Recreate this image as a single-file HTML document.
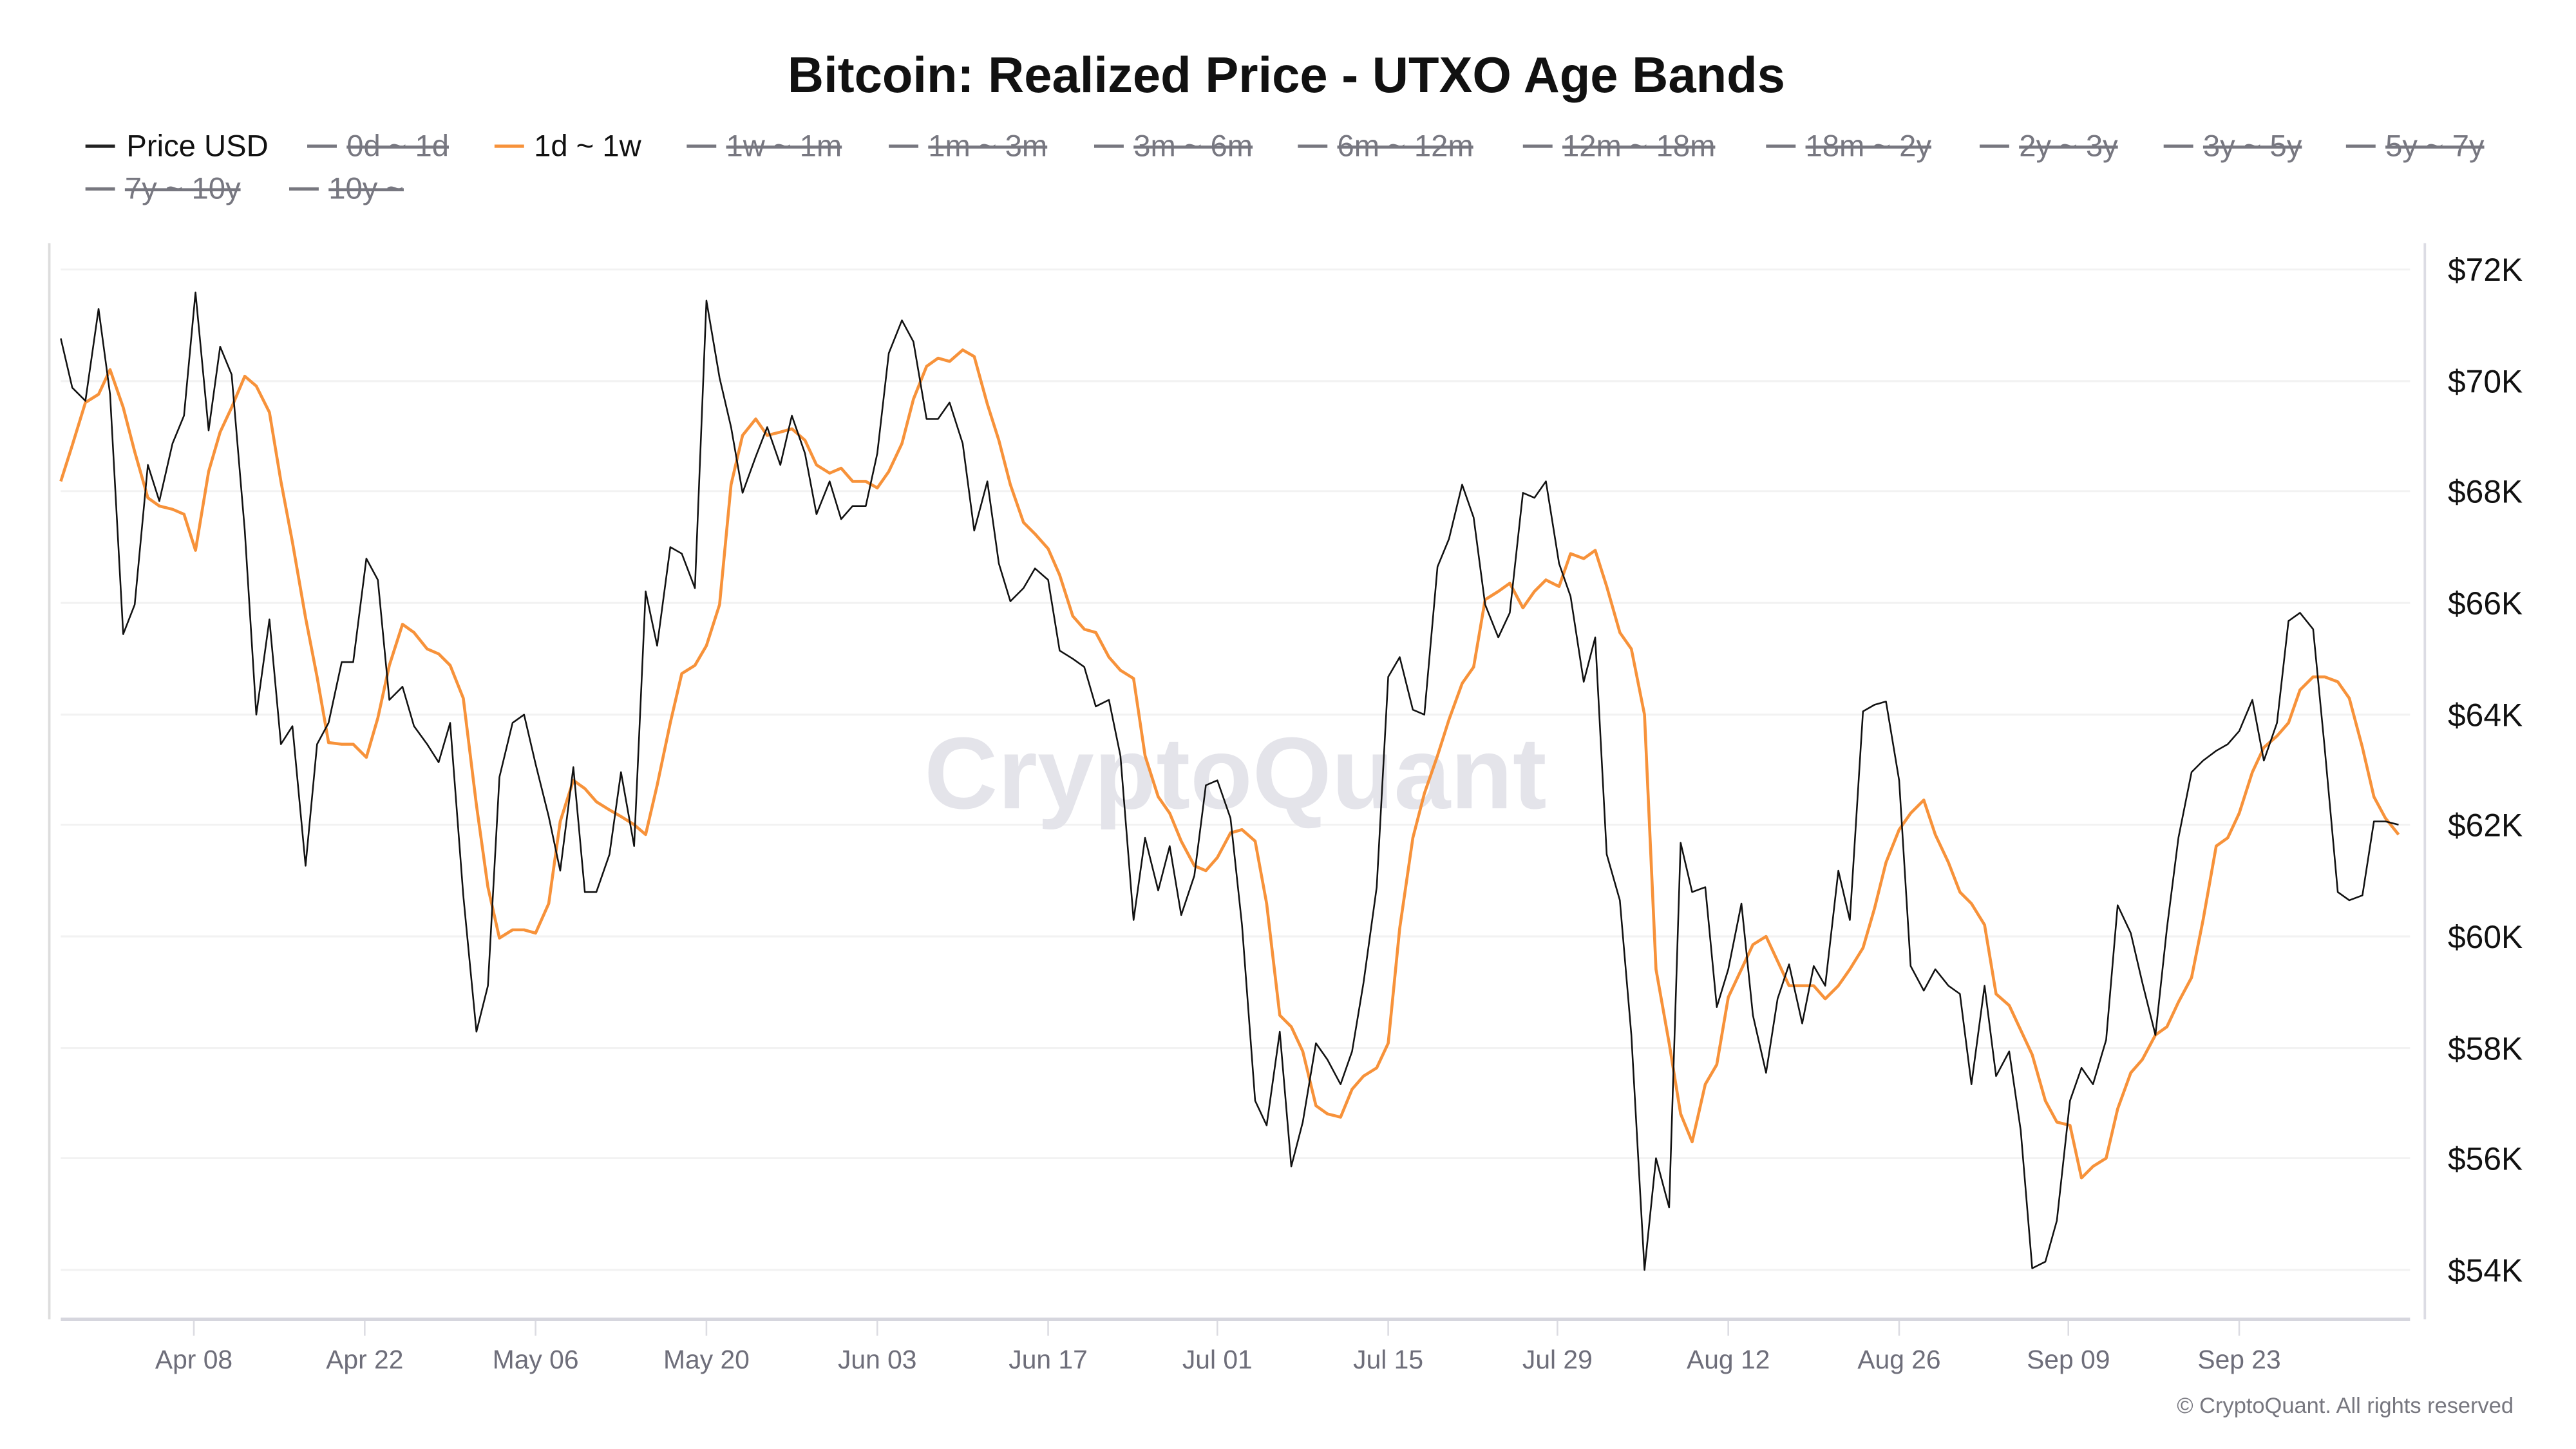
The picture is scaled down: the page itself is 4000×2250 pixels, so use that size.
<!DOCTYPE html>
<html><head><meta charset="utf-8"><style>
html,body{margin:0;padding:0;background:#fff;}
svg{display:block;font-family:"Liberation Sans",sans-serif;}
</style></head><body>
<svg width="4000" height="2250" viewBox="0 0 1568 882" xmlns="http://www.w3.org/2000/svg">
<rect width="1568" height="882" fill="#fff"/>
<text x="783" y="56" text-anchor="middle" font-size="30.5" font-weight="bold" fill="#111">Bitcoin: Realized Price - UTXO Age Bands</text>
<g font-size="18.5" fill="#777780">
<line x1="52" y1="89" x2="70" y2="89" stroke="#222" stroke-width="2"/><text x="77" y="95" fill="#111">Price USD</text>
<line x1="187" y1="89" x2="205" y2="89" stroke="#77777f" stroke-width="2"/><text x="211" y="95" text-decoration="line-through">0d ~ 1d</text>
<line x1="301" y1="89" x2="319" y2="89" stroke="#f7923a" stroke-width="2"/><text x="325" y="95" fill="#111">1d ~ 1w</text>
<line x1="418" y1="89" x2="436" y2="89" stroke="#77777f" stroke-width="2"/><text x="442" y="95" text-decoration="line-through">1w ~ 1m</text>
<line x1="541" y1="89" x2="559" y2="89" stroke="#77777f" stroke-width="2"/><text x="565" y="95" text-decoration="line-through">1m ~ 3m</text>
<line x1="666" y1="89" x2="684" y2="89" stroke="#77777f" stroke-width="2"/><text x="690" y="95" text-decoration="line-through">3m ~ 6m</text>
<line x1="790" y1="89" x2="808" y2="89" stroke="#77777f" stroke-width="2"/><text x="814" y="95" text-decoration="line-through">6m ~ 12m</text>
<line x1="927" y1="89" x2="945" y2="89" stroke="#77777f" stroke-width="2"/><text x="951" y="95" text-decoration="line-through">12m ~ 18m</text>
<line x1="1075" y1="89" x2="1093" y2="89" stroke="#77777f" stroke-width="2"/><text x="1099" y="95" text-decoration="line-through">18m ~ 2y</text>
<line x1="1205" y1="89" x2="1223" y2="89" stroke="#77777f" stroke-width="2"/><text x="1229" y="95" text-decoration="line-through">2y ~ 3y</text>
<line x1="1317" y1="89" x2="1335" y2="89" stroke="#77777f" stroke-width="2"/><text x="1341" y="95" text-decoration="line-through">3y ~ 5y</text>
<line x1="1428" y1="89" x2="1446" y2="89" stroke="#77777f" stroke-width="2"/><text x="1452" y="95" text-decoration="line-through">5y ~ 7y</text>
<line x1="52" y1="115" x2="70" y2="115" stroke="#77777f" stroke-width="2"/><text x="76" y="121" text-decoration="line-through">7y ~ 10y</text>
<line x1="176" y1="115" x2="194" y2="115" stroke="#77777f" stroke-width="2"/><text x="200" y="121" text-decoration="line-through">10y ~</text>
</g>
<line x1="30" y1="148" x2="30" y2="803" stroke="#ddd" stroke-width="1.5"/>
<line x1="1476" y1="148" x2="1476" y2="803" stroke="#dcdce4" stroke-width="1.5"/>
<g stroke="#f2f2f2" stroke-width="1.2">
<line x1="37" y1="164" x2="1467" y2="164"/><line x1="37" y1="232" x2="1467" y2="232"/><line x1="37" y1="299" x2="1467" y2="299"/><line x1="37" y1="367" x2="1467" y2="367"/><line x1="37" y1="435" x2="1467" y2="435"/><line x1="37" y1="502" x2="1467" y2="502"/><line x1="37" y1="570" x2="1467" y2="570"/><line x1="37" y1="638" x2="1467" y2="638"/><line x1="37" y1="705" x2="1467" y2="705"/><line x1="37" y1="773" x2="1467" y2="773"/>
</g>
<line x1="37" y1="803" x2="1467" y2="803" stroke="#d6d6de" stroke-width="2"/>
<g stroke="#dcdce2" stroke-width="1">
<line x1="118" y1="804" x2="118" y2="813"/><line x1="222" y1="804" x2="222" y2="813"/><line x1="326" y1="804" x2="326" y2="813"/><line x1="430" y1="804" x2="430" y2="813"/><line x1="534" y1="804" x2="534" y2="813"/><line x1="638" y1="804" x2="638" y2="813"/><line x1="741" y1="804" x2="741" y2="813"/><line x1="845" y1="804" x2="845" y2="813"/><line x1="948" y1="804" x2="948" y2="813"/><line x1="1052" y1="804" x2="1052" y2="813"/><line x1="1156" y1="804" x2="1156" y2="813"/><line x1="1259" y1="804" x2="1259" y2="813"/><line x1="1363" y1="804" x2="1363" y2="813"/>
</g>
<text x="752" y="492" text-anchor="middle" font-size="62" fill="#e4e4ea" font-weight="bold">CryptoQuant</text>
<g font-size="19.5" fill="#111">
<text x="1490" y="171">$72K</text><text x="1490" y="239">$70K</text><text x="1490" y="306">$68K</text><text x="1490" y="374">$66K</text><text x="1490" y="442">$64K</text><text x="1490" y="509">$62K</text><text x="1490" y="577">$60K</text><text x="1490" y="645">$58K</text><text x="1490" y="712">$56K</text><text x="1490" y="780">$54K</text>
</g>
<g font-size="16" fill="#6e6e7a" text-anchor="middle">
<text x="118" y="833">Apr 08</text><text x="222" y="833">Apr 22</text><text x="326" y="833">May 06</text><text x="430" y="833">May 20</text><text x="534" y="833">Jun 03</text><text x="638" y="833">Jun 17</text><text x="741" y="833">Jul 01</text><text x="845" y="833">Jul 15</text><text x="948" y="833">Jul 29</text><text x="1052" y="833">Aug 12</text><text x="1156" y="833">Aug 26</text><text x="1259" y="833">Sep 09</text><text x="1363" y="833">Sep 23</text>
</g>
<text x="1530" y="860" text-anchor="end" font-size="13.5" fill="#77777f">© CryptoQuant. All rights reserved</text>
<polyline fill="none" stroke="#f7923a" stroke-width="1.8" stroke-linejoin="round" points="37,293 44,271 52,245 60,240 67,225 75,248 82,275 90,303 97,308 105,310 112,313 119,335 127,287 134,263 141,248 149,229 156,235 164,251 171,293 178,330 186,376 193,412 200,452 208,453 215,453 223,461 230,437 237,405 245,380 252,385 260,395 267,398 274,405 282,425 290,490 297,540 304,571 312,566 319,566 326,568 334,550 341,500 349,475 356,480 363,488 371,493 378,497 386,502 393,508 400,478 408,440 415,410 423,405 430,393 438,368 445,295 452,265 460,255 467,265 475,263 482,261 490,268 497,283 505,288 512,285 519,293 527,293 534,297 541,287 549,270 556,243 564,223 571,218 578,220 586,213 593,217 601,246 608,268 615,295 623,318 630,325 638,334 645,350 653,375 660,383 667,385 675,400 682,408 690,413 697,460 705,485 712,495 719,512 727,527 734,530 741,522 749,507 756,505 764,512 771,550 779,618 786,625 793,640 801,673 808,678 816,680 823,663 830,655 838,650 845,635 852,565 860,510 867,483 875,460 882,438 890,416 897,406 904,365 912,360 919,355 927,370 934,360 941,353 949,357 956,337 964,340 971,335 978,357 986,385 993,395 1001,435 1008,590 1016,635 1023,678 1030,695 1038,660 1045,648 1052,607 1060,590 1067,575 1075,570 1082,585 1089,600 1097,600 1104,600 1111,608 1119,600 1126,590 1134,577 1141,553 1148,525 1156,505 1163,495 1171,487 1178,508 1186,525 1193,543 1200,550 1208,563 1215,605 1223,612 1230,627 1237,642 1245,670 1252,683 1260,685 1267,717 1274,710 1282,705 1289,675 1297,653 1304,645 1312,630 1319,625 1326,610 1334,595 1341,560 1349,515 1356,510 1363,495 1371,470 1378,455 1386,448 1393,440 1400,420 1408,412 1415,412 1423,415 1430,425 1438,455 1445,485 1452,498 1460,508"/>
<polyline fill="none" stroke="#111" stroke-width="1" stroke-linejoin="round" points="37,206 44,236 52,244 60,188 67,240 75,386 82,368 90,283 97,305 105,270 112,253 119,178 127,262 134,211 141,228 149,323 156,435 164,377 171,453 178,442 186,527 193,453 200,440 208,403 215,403 223,340 230,353 237,426 245,418 252,442 260,453 267,464 274,440 282,545 290,628 297,600 304,473 312,440 319,435 326,465 334,497 341,530 349,467 356,543 363,543 371,520 378,470 386,515 393,360 400,393 408,333 415,337 423,358 430,183 438,230 445,260 452,300 460,278 467,260 475,283 482,253 490,276 497,313 505,293 512,316 519,308 527,308 534,276 541,215 549,195 556,208 564,255 571,255 578,245 586,270 593,323 601,293 608,343 615,366 623,358 630,346 638,353 645,396 653,401 660,406 667,430 675,426 682,460 690,560 697,510 705,542 712,515 719,557 727,533 734,478 741,475 749,498 756,563 764,670 771,685 779,628 786,710 793,683 801,635 808,645 816,660 823,640 830,598 838,540 845,412 852,400 860,432 867,435 875,345 882,328 890,295 897,315 904,368 912,388 919,373 927,300 934,303 941,293 949,343 956,363 964,415 971,388 978,520 986,548 993,630 1001,773 1008,705 1016,735 1023,513 1030,543 1038,540 1045,613 1052,590 1060,550 1067,618 1075,653 1082,608 1089,587 1097,623 1104,588 1111,600 1119,530 1126,560 1134,433 1141,429 1148,427 1156,475 1163,588 1171,603 1178,590 1186,600 1193,605 1200,660 1208,600 1215,655 1223,640 1230,688 1237,772 1245,768 1252,743 1260,670 1267,650 1274,660 1282,633 1289,551 1297,568 1304,598 1312,630 1319,565 1326,510 1334,470 1341,463 1349,457 1356,453 1363,445 1371,426 1378,463 1386,440 1393,378 1400,373 1408,383 1415,455 1423,543 1430,548 1438,545 1445,500 1452,500 1460,502"/>
</svg>
</body></html>
